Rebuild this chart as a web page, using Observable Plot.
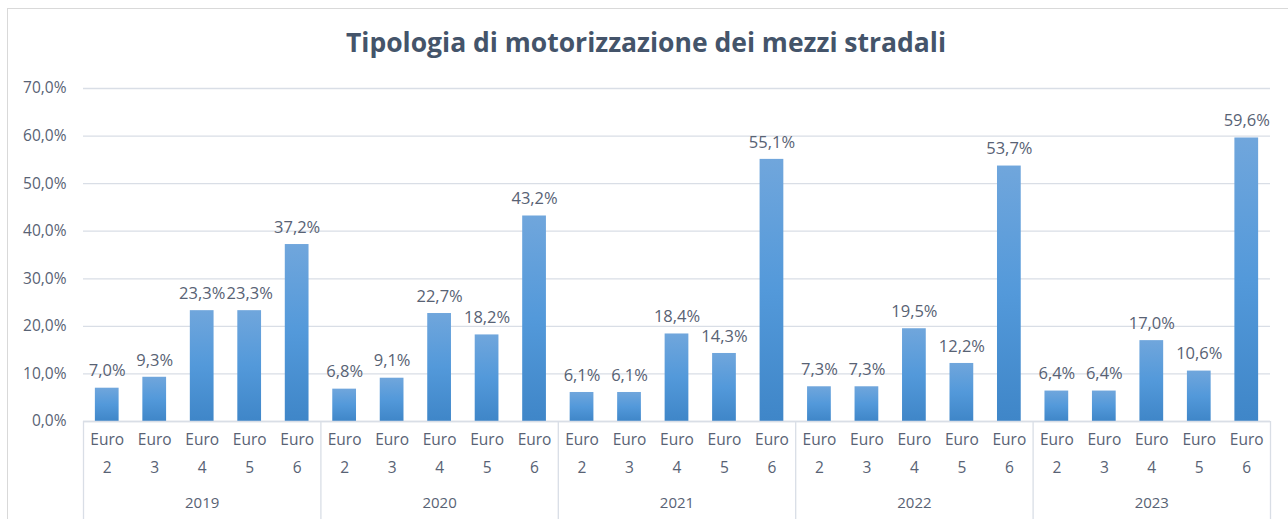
<!DOCTYPE html>
<html>
<head>
<meta charset="utf-8">
<script src="https://cdn.jsdelivr.net/npm/d3@7"></script>
<script src="https://cdn.jsdelivr.net/npm/@observablehq/plot@0.6"></script>
<style>
  html, body { margin: 0; padding: 0; background: #ffffff; }
  #wrap { position: relative; width: 1288px; height: 519px; overflow: hidden; font-family: "Open Sans", sans-serif; }
  #border { position: absolute; left: 7px; top: 8px; right: -2px; bottom: -10px; border: 1px solid #d9d9d9; }
  #title { position: absolute; top: 24px; left: 0; width: 1292px; text-align: center; font-size: 26.5px; font-weight: 700; color: #44546a; }
  #chart { position: absolute; left: 0; top: 70px; width: 1288px; }
</style>
</head>
<body>
<div id="wrap">
  <div id="border"></div>
  <div id="title">Tipologia di motorizzazione dei mezzi stradali</div>
  <div id="chart"></div>
</div>
<script>
const years = ["2019", "2020", "2021", "2022", "2023"];
const classes = ["Euro 2", "Euro 3", "Euro 4", "Euro 5", "Euro 6"];
const v2019 = [7.0, 9.3, 23.3, 23.3, 37.2];
const v2020 = [6.8, 9.1, 22.7, 18.2, 43.2];
const v2021 = [6.1, 6.1, 18.4, 14.3, 55.1];
const v2022 = [7.3, 7.3, 19.5, 12.2, 53.7];
const v2023 = [6.4, 6.4, 17.0, 10.6, 59.6];
const yTicks = [0, 10, 20, 30, 40, 50, 60, 70];

const seriesByYear = [v2019, v2020, v2021, v2022, v2023];
const rows = [];
years.forEach((yr, i) => classes.forEach((c, j) => rows.push({year: yr, cls: c, key: yr + "|" + c, value: seriesByYear[i][j]})));

const W = 1288, H = 449, ML = 83, MR = 18, MT = 18;
const yMin = -20.6;
const step = (W - ML - MR) / rows.length;
const fmt = d => d.toFixed(1).replace(".", ",") + "%";
const textColor = "#586274";
const gridColor = "#d9dee6";

const chart = Plot.plot({
  width: W, height: H,
  marginLeft: ML, marginRight: MR, marginTop: MT, marginBottom: 0,
  style: {fontFamily: "Open Sans, sans-serif", background: "transparent", overflow: "visible"},
  x: {type: "band", domain: rows.map(d => d.key), paddingInner: 0.5, paddingOuter: 0.25, round: false, axis: null},
  y: {domain: [yMin, 70], axis: null},
  marks: [
    Plot.gridY(yTicks, {stroke: gridColor, strokeOpacity: 1, strokeWidth: 1.3}),
    Plot.axisY(yTicks, {tickSize: 0, tickPadding: 17, tickFormat: fmt, fontSize: 15.5, fill: textColor, label: null}),
    Plot.barY(rows, {x: "key", y: "value", fill: "url(#barGrad)"}),
    Plot.text(rows, {x: "key", y: "value", text: d => fmt(d.value), dy: -17, lineAnchor: "middle", fontSize: 16.5, fill: textColor}),
    Plot.ruleY([0], {stroke: gridColor, strokeWidth: 1.3}),
    Plot.ruleX(rows.filter(d => d.cls === classes[0]), {x: "key", dx: -step / 2, y1: 0, y2: yMin, stroke: gridColor, strokeWidth: 1.3}),
    Plot.ruleX(rows.filter(d => d.key === rows[rows.length - 1].key), {x: "key", dx: step / 2, y1: 0, y2: yMin, stroke: gridColor, strokeWidth: 1.3}),
    Plot.text(rows, {x: "key", y: () => -4.0, text: d => d.cls.split(" ")[0], lineAnchor: "middle", fontSize: 15.5, fill: textColor}),
    Plot.text(rows, {x: "key", y: () => -9.7, text: d => d.cls.split(" ")[1], lineAnchor: "middle", fontSize: 15.5, fill: textColor}),
    Plot.text(rows.filter(d => d.cls === classes[2]), {x: "key", y: () => -17.2, text: "year", lineAnchor: "middle", fontSize: 15, fill: textColor})
  ]
});

const defs = d3.select(chart).insert("defs", ":first-child");
const g = defs.append("linearGradient").attr("id", "barGrad").attr("x1", 0).attr("y1", 0).attr("x2", 0).attr("y2", 1);
g.append("stop").attr("offset", "0%").attr("stop-color", "#70a6dc");
g.append("stop").attr("offset", "50%").attr("stop-color", "#5399da");
g.append("stop").attr("offset", "100%").attr("stop-color", "#3f86c8");

document.getElementById("chart").appendChild(chart);
</script>
</body>
</html>
